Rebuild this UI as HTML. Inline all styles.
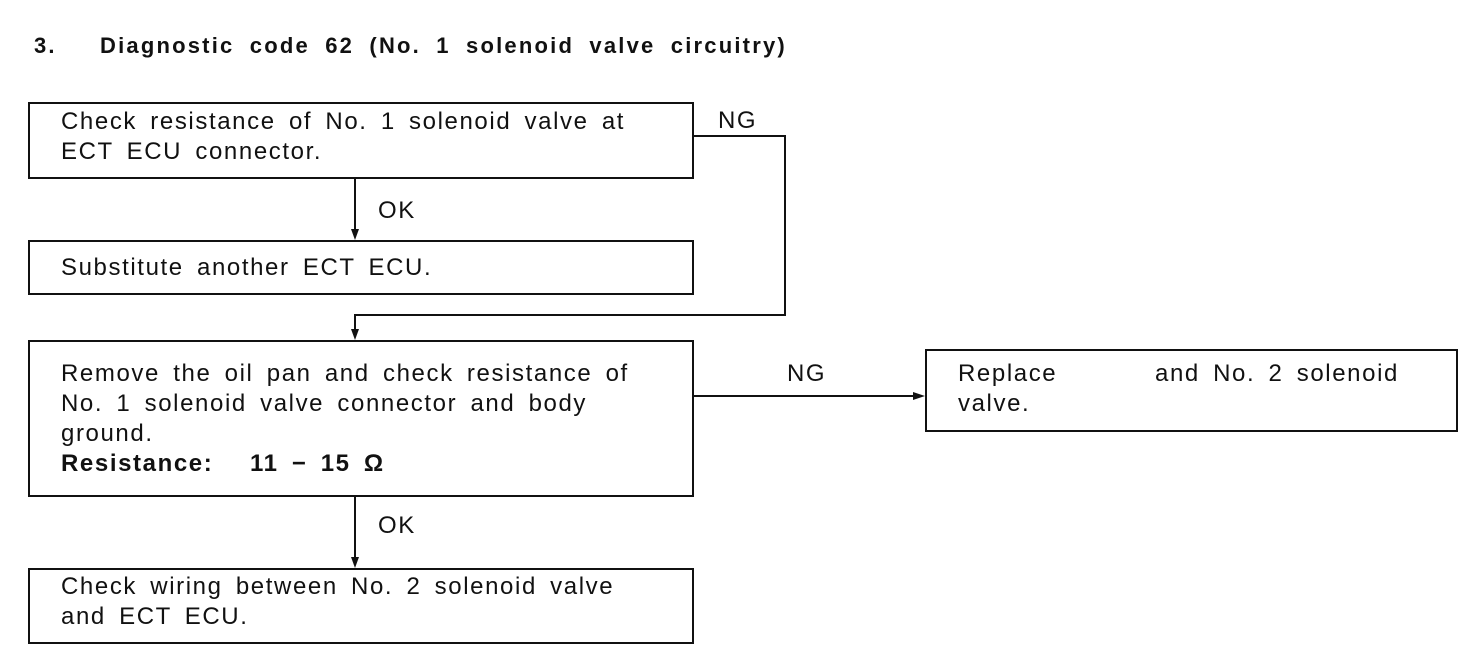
<!DOCTYPE html>
<html><head><style>
body{margin:0;width:1472px;height:662px;background:#fff;position:relative;font-family:"Liberation Sans",Arial,sans-serif;color:#111;overflow:hidden}
.t{position:absolute;font-size:24px;line-height:30px;white-space:pre;letter-spacing:1.6px;word-spacing:5px}
.b{position:absolute;border:2px solid #111;box-sizing:border-box}
.h{font-weight:bold;font-size:22px;letter-spacing:2.2px;word-spacing:7px}
</style></head><body>
<div class="t h" style="left:34px;top:31px">3.</div>
<div class="t h" style="left:100px;top:31px">Diagnostic code 62 (No. 1 solenoid valve circuitry)</div>

<div class="b" style="left:28px;top:102px;width:666px;height:77px"></div>
<div class="t" style="left:61px;top:107px">Check resistance of No. 1 solenoid valve at
ECT ECU connector.</div>
<div class="t" style="left:718px;top:106px">NG</div>

<div class="t" style="left:378px;top:196px">OK</div>
<div class="b" style="left:28px;top:240px;width:666px;height:55px"></div>
<div class="t" style="left:61px;top:253px">Substitute another ECT ECU.</div>

<div class="b" style="left:28px;top:340px;width:666px;height:157px"></div>
<div class="t" style="left:61px;top:359px">Remove the oil pan and check resistance of
No. 1 solenoid valve connector and body
ground.</div>
<div class="t" style="left:61px;top:449px;font-weight:bold">Resistance:</div>
<div class="t" style="left:250px;top:449px;font-weight:bold">11 − 15 Ω</div>

<div class="t" style="left:787px;top:359px">NG</div>
<div class="b" style="left:925px;top:349px;width:533px;height:83px"></div>
<div class="t" style="left:958px;top:359px">Replace</div>
<div class="t" style="left:1155px;top:359px">and No. 2 solenoid</div>
<div class="t" style="left:958px;top:389px">valve.</div>

<div class="t" style="left:378px;top:511px">OK</div>
<div class="b" style="left:28px;top:568px;width:666px;height:76px"></div>
<div class="t" style="left:61px;top:572px">Check wiring between No. 2 solenoid valve
and ECT ECU.</div>

<svg style="position:absolute;left:0;top:0" width="1472" height="662">
<g stroke="#111" stroke-width="2" fill="none">
<line x1="355" y1="179" x2="355" y2="232"/>
<polyline points="694,136 785,136 785,315 355,315 355,332"/>
<line x1="694" y1="396" x2="917" y2="396"/>
<line x1="355" y1="497" x2="355" y2="560"/>
</g>
<g fill="#111">
<polygon points="351,229 359,229 355,240"/>
<polygon points="351,329 359,329 355,340"/>
<polygon points="913,392 913,400 925,396"/>
<polygon points="351,557 359,557 355,568"/>
</g>
</svg>
</body></html>
